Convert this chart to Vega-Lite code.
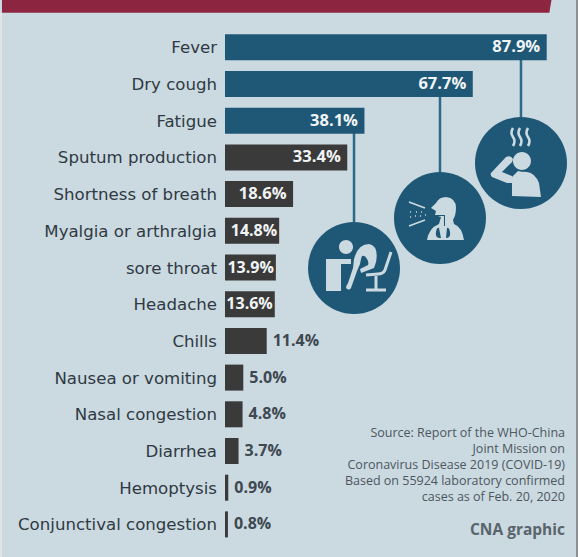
{
  "$schema": "https://vega.github.io/schema/vega-lite/v6.json",
  "width": 578,
  "height": 557,
  "padding": 0,
  "autosize": {"type": "none"},
  "background": "#cbd9e1",
  "config": {"view": {"stroke": null}, "axis": {"disable": true}},
  "datasets": {
    "symptoms": [
      {"row": 1, "symptom": "Fever", "share": 0.879, "group": "leading"},
      {"row": 2, "symptom": "Dry cough", "share": 0.677, "group": "leading"},
      {"row": 3, "symptom": "Fatigue", "share": 0.381, "group": "leading"},
      {"row": 4, "symptom": "Sputum production", "share": 0.334, "group": "other"},
      {"row": 5, "symptom": "Shortness of breath", "share": 0.186, "group": "other"},
      {"row": 6, "symptom": "Myalgia or arthralgia", "share": 0.148, "group": "other"},
      {"row": 7, "symptom": "sore throat", "share": 0.139, "group": "other"},
      {"row": 8, "symptom": "Headache", "share": 0.136, "group": "other"},
      {"row": 9, "symptom": "Chills", "share": 0.114, "group": "other"},
      {"row": 10, "symptom": "Nausea or vomiting", "share": 0.05, "group": "other"},
      {"row": 11, "symptom": "Nasal congestion", "share": 0.048, "group": "other"},
      {"row": 12, "symptom": "Diarrhea", "share": 0.037, "group": "other"},
      {"row": 13, "symptom": "Hemoptysis", "share": 0.009, "group": "other"},
      {"row": 14, "symptom": "Conjunctival congestion", "share": 0.008, "group": "other"}
    ],
    "single": [{"id": 1}]
  },
  "layer": [
    {
      "description": "Header band",
      "data": {"name": "single"},
      "mark": {"type": "rect", "color": "#8c2540"},
      "encoding": {
        "x": {"datum": -0.6093, "type": "quantitative", "scale": {"domain": [-0.61475, 0.96448], "nice": false, "zero": false, "padding": 0}},
        "x2": {"datum": 0.8852},
        "y": {"datum": -0.2888, "type": "quantitative", "scale": {"domain": [-0.2888, 14.888], "reverse": true, "nice": false, "zero": false, "padding": 0}},
        "y2": {"datum": 0.0575}
      }
    },
    {
      "description": "Slanted end of the header band",
      "data": {"name": "single"},
      "mark": {"type": "point", "size": 4, "filled": true, "opacity": 1, "color": "#8c2540", "shape": "M0,0L2.5,0L0.3,13L0,13Z"},
      "encoding": {"x": {"datum": 0.8852, "type": "quantitative"}, "y": {"datum": -0.2888, "type": "quantitative"}}
    },
    {
      "description": "Pale sliver along the left edge",
      "data": {"name": "single"},
      "mark": {"type": "rect", "color": "#e1e5ea"},
      "encoding": {"x": {"datum": -0.61475, "type": "quantitative"}, "x2": {"datum": -0.6093}, "y": {"datum": 0.0575, "type": "quantitative"}, "y2": {"datum": 14.888}}
    },
    {
      "description": "Grey sliver along the right edge",
      "data": {"name": "single"},
      "mark": {"type": "rect", "color": "#8d9093"},
      "encoding": {"x": {"datum": 0.9590, "type": "quantitative"}, "x2": {"datum": 0.96448}, "y": {"datum": -0.2888, "type": "quantitative"}, "y2": {"datum": 14.888}}
    },
    {
      "description": "Connector from the Fever bar to its icon",
      "data": {"name": "single"},
      "mark": {"type": "rule", "color": "#2c6a8a", "strokeWidth": 2.5},
      "encoding": {"x": {"datum": 0.8087, "type": "quantitative"}, "y": {"datum": 1, "type": "quantitative"}, "y2": {"datum": 4.15}}
    },
    {
      "description": "Connector from the Dry cough bar to its icon",
      "data": {"name": "single"},
      "mark": {"type": "rule", "color": "#2c6a8a", "strokeWidth": 2.5},
      "encoding": {"x": {"datum": 0.5874, "type": "quantitative"}, "y": {"datum": 2, "type": "quantitative"}, "y2": {"datum": 5.65}}
    },
    {
      "description": "Connector from the Fatigue bar to its icon",
      "data": {"name": "single"},
      "mark": {"type": "rule", "color": "#2c6a8a", "strokeWidth": 2.5},
      "encoding": {"x": {"datum": 0.3525, "type": "quantitative"}, "y": {"datum": 3, "type": "quantitative"}, "y2": {"datum": 7.01}}
    },
    {
      "data": {"name": "symptoms"},
      "mark": {"type": "bar", "orient": "horizontal", "size": 26},
      "encoding": {
        "x": {"field": "share", "type": "quantitative", "stack": null},
        "y": {"field": "row", "type": "quantitative"},
        "color": {"field": "group", "type": "nominal", "legend": null, "scale": {"domain": ["leading", "other"], "range": ["#1f5876", "#3a3a3a"]}}
      }
    },
    {
      "description": "Symptom names",
      "data": {"name": "symptoms"},
      "mark": {"type": "text", "align": "right", "baseline": "middle", "dx": -8, "dy": 1, "font": "DejaVu Sans", "fontSize": 16.6, "color": "#2f3a42"},
      "encoding": {
        "x": {"datum": 0, "type": "quantitative"},
        "y": {"field": "row", "type": "quantitative"},
        "text": {"field": "symptom", "type": "nominal"}
      }
    },
    {
      "description": "Values printed inside the long bars",
      "data": {"name": "symptoms"},
      "transform": [{"filter": "datum.share >= 0.18"}],
      "mark": {"type": "text", "align": "right", "baseline": "middle", "dx": -6.5, "font": "Open Sans", "fontSize": 16.5, "fontWeight": "bold", "color": "#f1f4f5"},
      "encoding": {
        "x": {"field": "share", "type": "quantitative", "stack": null},
        "y": {"field": "row", "type": "quantitative"},
        "text": {"field": "share", "type": "quantitative", "format": ".1%"}
      }
    },
    {
      "description": "Values that nearly fill their bars",
      "data": {"name": "symptoms"},
      "transform": [{"filter": "datum.share >= 0.13 && datum.share < 0.18"}],
      "mark": {"type": "text", "align": "right", "baseline": "middle", "dx": -2, "font": "Open Sans", "fontSize": 16, "fontWeight": "bold", "color": "#f1f4f5"},
      "encoding": {
        "x": {"field": "share", "type": "quantitative", "stack": null},
        "y": {"field": "row", "type": "quantitative"},
        "text": {"field": "share", "type": "quantitative", "format": ".1%"}
      }
    },
    {
      "description": "Values printed beside the shorter bars",
      "data": {"name": "symptoms"},
      "transform": [{"filter": "datum.share < 0.13"}],
      "mark": {"type": "text", "align": "left", "baseline": "middle", "dx": 6, "font": "Open Sans", "fontSize": 16, "fontWeight": "bold", "color": "#3d4850"},
      "encoding": {
        "x": {"field": "share", "type": "quantitative", "stack": null},
        "y": {"field": "row", "type": "quantitative"},
        "text": {"field": "share", "type": "quantitative", "format": ".1%"}
      }
    },
    {
      "description": "Icon disc: fever",
      "data": {"name": "single"},
      "mark": {"type": "point", "shape": "circle", "size": 8464, "filled": true, "opacity": 1, "color": "#1f5876"},
      "encoding": {"x": {"datum": 0.8087, "type": "quantitative"}, "y": {"datum": 4.153, "type": "quantitative"}}
    },
    {
      "description": "Icon disc: cough",
      "data": {"name": "single"},
      "mark": {"type": "point", "shape": "circle", "size": 8464, "filled": true, "opacity": 1, "color": "#1f5876"},
      "encoding": {"x": {"datum": 0.5874, "type": "quantitative"}, "y": {"datum": 5.651, "type": "quantitative"}}
    },
    {
      "description": "Icon disc: fatigue",
      "data": {"name": "single"},
      "mark": {"type": "point", "shape": "circle", "size": 8464, "filled": true, "opacity": 1, "color": "#1f5876"},
      "encoding": {"x": {"datum": 0.3525, "type": "quantitative"}, "y": {"datum": 7.014, "type": "quantitative"}}
    },
    {
      "description": "Fever glyph: head, torso and raised arm. Size 4 makes one path unit one pixel.",
      "data": {"name": "single"},
      "mark": {"type": "point", "size": 4, "filled": true, "opacity": 1, "color": "#cbd9e1",
        "shape": "M-8,-2a9,9 0 1,0 18,0a9,9 0 1,0 -18,0Z M-9,33L20,34L18,20Q14,10 6,9Q0,9 -3,8L-9,14Z M-30,10L-15,-6Q-10,-8 -8,-4Q-8,-1 -11,1L-19,9L-9,13L-9,20L-14,20L-29,14Q-31,12 -30,10Z"},
      "encoding": {"x": {"datum": 0.8087, "type": "quantitative"}, "y": {"datum": 4.153, "type": "quantitative"}}
    },
    {
      "description": "Fever glyph: rising heat",
      "data": {"name": "single"},
      "mark": {"type": "point", "size": 4, "filled": false, "opacity": 1, "color": "#cbd9e1", "strokeWidth": 2.6,
        "shape": "M-8,-35Q-11,-30 -8,-26Q-5,-22 -8,-17 M-1,-35Q-4,-30 -1,-26Q2,-22 -1,-17 M7,-35Q4,-30 7,-26Q10,-22 7,-17"},
      "encoding": {"x": {"datum": 0.8087, "type": "quantitative"}, "y": {"datum": 4.153, "type": "quantitative"}}
    },
    {
      "description": "Cough glyph: head in profile and chest",
      "data": {"name": "single"},
      "mark": {"type": "point", "size": 4, "filled": true, "opacity": 1, "color": "#cbd9e1",
        "shape": "M-9,-10L-4,-15Q-1,-21 6,-21Q16,-20 16,-10Q16,-3 13,2L14,6Q22,9 24,22L-13,22Q-11,10 -1,6L1,-1L-5,-3L-4,-7Z"},
      "encoding": {"x": {"datum": 0.5874, "type": "quantitative"}, "y": {"datum": 5.651, "type": "quantitative"}}
    },
    {
      "description": "Cough glyph: windpipe and lungs",
      "data": {"name": "single"},
      "mark": {"type": "point", "size": 4, "filled": true, "opacity": 1, "color": "#1f5876",
        "shape": "M-5,-3L5,-3L5,8L4,8L4,-2L-5,-2Z M-1,20Q-5,19 -4,14Q-3,9 -1,10L1,20Z M7,10Q9,9 10,14Q11,19 7,20L6,20Z"},
      "encoding": {"x": {"datum": 0.5874, "type": "quantitative"}, "y": {"datum": 5.651, "type": "quantitative"}}
    },
    {
      "description": "Cough glyph: spray cone and droplets",
      "data": {"name": "single"},
      "mark": {"type": "point", "size": 4, "filled": false, "opacity": 1, "color": "#cbd9e1", "strokeWidth": 1.7,
        "shape": "M-31,-16L-15,-10 M-31,8L-15,2 M-30,-6L-29,-6 M-24,-6L-23,-6 M-19,-6L-18,-6 M-30,-1L-29,-1 M-25,-2L-24,-2 M-20,-2L-19,-2 M-15,-3L-14,-3"},
      "encoding": {"x": {"datum": 0.5874, "type": "quantitative"}, "y": {"datum": 5.651, "type": "quantitative"}}
    },
    {
      "description": "Fatigue glyph: desk, head and slumped body",
      "data": {"name": "single"},
      "mark": {"type": "point", "size": 4, "filled": true, "opacity": 1, "color": "#cbd9e1",
        "shape": "M-28,-9L-3,-9L-3,-4L-13,-4L-13,23L-28,23Z M-15,-21a7,7 0 1,0 14,0a7,7 0 1,0 -14,0Z M0,-9Q4,-24 15,-24Q25,-22 22,-6L20,0L7,5L6,1L14,-3Q15,-6 13,-9Q11,-13 8,-12Q7,-10 6,-4L3,3L-3,20Q-5,23 -8,20Q-8,18 -6,15L-1,0Z"},
      "encoding": {"x": {"datum": 0.3525, "type": "quantitative"}, "y": {"datum": 7.014, "type": "quantitative"}}
    },
    {
      "description": "Fatigue glyph: chair",
      "data": {"name": "single"},
      "mark": {"type": "point", "size": 4, "filled": false, "opacity": 1, "color": "#cbd9e1", "strokeWidth": 3,
        "shape": "M37,-16L31,2Q29,6 24,6L12,7 M22,8L22,22 M12,22L32,22"},
      "encoding": {"x": {"datum": 0.3525, "type": "quantitative"}, "y": {"datum": 7.014, "type": "quantitative"}}
    },
    {
      "description": "Source note",
      "data": {"name": "single"},
      "mark": {"type": "text", "align": "right", "baseline": "middle", "font": "Open Sans", "fontSize": 12.5, "fontWeight": "normal", "lineHeight": 16, "color": "#4c575e",
        "text": ["Source: Report of the WHO-China", "Joint Mission on", "Coronavirus Disease 2019 (COVID-19)", "Based on 55924 laboratory confirmed", "cases as of Feb. 20, 2020"]},
      "encoding": {"x": {"datum": 0.929, "type": "quantitative"}, "y": {"datum": 11.51, "type": "quantitative"}}
    },
    {
      "description": "Credit",
      "data": {"name": "single"},
      "mark": {"type": "text", "align": "right", "baseline": "middle", "font": "Open Sans", "fontSize": 15.5, "fontWeight": "bold", "color": "#59646b", "text": "CNA graphic"},
      "encoding": {"x": {"datum": 0.929, "type": "quantitative"}, "y": {"datum": 14.14, "type": "quantitative"}}
    }
  ]
}
